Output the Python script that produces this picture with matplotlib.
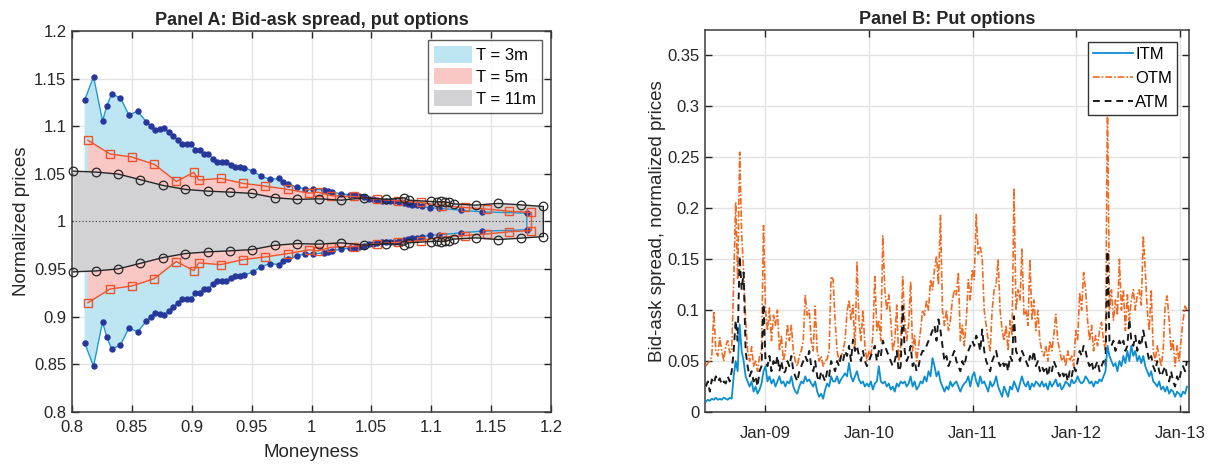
import matplotlib
matplotlib.use("Agg")
import matplotlib.pyplot as plt
import matplotlib.dates as mdates
from matplotlib.patches import Patch
from matplotlib.ticker import FuncFormatter, MultipleLocator
import numpy as np
import pandas as pd

plt.rcParams['font.family'] = ['Liberation Sans', 'DejaVu Sans']

# ---------------- Panel A data (moneyness, ask side normalized price) ----------------
m3 = [0.8105, 0.818, 0.8255, 0.829, 0.833, 0.8404, 0.8476, 0.8547, 0.8622, 0.8658,
      0.8697, 0.8733, 0.8771, 0.8808, 0.8846, 0.8882, 0.8918, 0.8957, 0.8993, 0.9028,
      0.9067, 0.9103, 0.9139, 0.9177, 0.9214, 0.925, 0.9289, 0.9324, 0.936, 0.9399,
      0.9435, 0.9509, 0.9581, 0.9656, 0.9731, 0.9766, 0.9805, 0.9877, 0.9946, 1.0012,
      1.0101, 1.0139, 1.0173, 1.025, 1.0322, 1.0361, 1.04, 1.0438, 1.0477, 1.051,
      1.0549, 1.0587, 1.0626, 1.0659, 1.0692, 1.0731, 1.077, 1.0808, 1.0842, 1.088,
      1.0919, 1.0991, 1.1063, 1.1245, 1.1422, 1.1798]
ask3 = [1.1274, 1.152, 1.1056, 1.121, 1.1337, 1.130, 1.1116, 1.116, 1.1045, 1.100,
        1.096, 1.097, 1.0979, 1.0937, 1.0898, 1.086, 1.0818, 1.0818, 1.0818, 1.075,
        1.075, 1.0713, 1.0713, 1.0656, 1.0624, 1.0624, 1.0624, 1.0593, 1.0572, 1.0572,
        1.0565, 1.053, 1.0474, 1.0442, 1.0453, 1.0418, 1.0397, 1.036, 1.0343, 1.0337,
        1.0333, 1.0319, 1.0308, 1.029, 1.028, 1.0277, 1.0266, 1.0253, 1.0238, 1.0231,
        1.0224, 1.0217, 1.0217, 1.021, 1.021, 1.0205, 1.019, 1.0182, 1.0175, 1.0168,
        1.0161, 1.0143, 1.014, 1.0119, 1.0101, 1.0087]

m5 = [0.8133, 0.8318, 0.85, 0.8688, 0.8871, 0.9017, 0.9059, 0.9241, 0.943, 0.9614,
      0.9803, 0.998, 1.0056, 1.0167, 1.0355, 1.0543, 1.0726, 1.0914, 1.109, 1.1279,
      1.1466, 1.1649, 1.1837]
ask5 = [1.0853, 1.0709, 1.0677, 1.060, 1.0421, 1.0516, 1.0435, 1.0453, 1.04, 1.0372,
        1.0337, 1.0298, 1.0308, 1.027, 1.0263, 1.0235, 1.0217, 1.02, 1.0164, 1.0147,
        1.013, 1.0108, 1.0095]

m11 = [0.8012, 0.82, 0.8385, 0.8572, 0.8758, 0.8945, 0.9133, 0.9322, 0.9504, 0.9692,
       0.988, 1.0062, 1.025, 1.0438, 1.0626, 1.0775, 1.0814, 1.1001, 1.1046, 1.1079,
       1.1113, 1.1146, 1.119, 1.1372, 1.156, 1.1748, 1.1936]
ask11 = [1.0529, 1.0519, 1.0498, 1.0439, 1.0379, 1.0337, 1.0319, 1.0308, 1.0295, 1.025,
         1.0232, 1.0238, 1.0224, 1.0249, 1.0232, 1.0249, 1.0224, 1.021, 1.0206, 1.021,
         1.0206, 1.02, 1.0185, 1.0172, 1.019, 1.0175, 1.0158]

# ---------------- Panel B data (weekly, from 2008-06-06) ----------------
start_date = "2008-06-06"
itm = [0.010, 0.012, 0.011, 0.013, 0.012, 0.014, 0.012, 0.013, 0.012, 0.014,
       0.013, 0.012, 0.014, 0.013, 0.035, 0.050, 0.040, 0.086, 0.060, 0.050,
       0.035, 0.030, 0.025, 0.030, 0.020, 0.025, 0.018, 0.022, 0.028, 0.040,
       0.045, 0.030, 0.035, 0.028, 0.032, 0.025, 0.030, 0.035, 0.028, 0.030,
       0.025, 0.030, 0.028, 0.035, 0.025, 0.020, 0.018, 0.025, 0.030, 0.028,
       0.035, 0.030, 0.032, 0.028, 0.025, 0.030, 0.020, 0.015, 0.018, 0.013,
       0.022, 0.028, 0.025, 0.035, 0.030, 0.030, 0.035, 0.028, 0.032, 0.035,
       0.038, 0.035, 0.048, 0.035, 0.030, 0.035, 0.040, 0.032, 0.028, 0.030,
       0.025, 0.028, 0.025, 0.030, 0.022, 0.028, 0.030, 0.045, 0.030, 0.028,
       0.030, 0.025, 0.028, 0.022, 0.025, 0.020, 0.028, 0.025, 0.030, 0.028,
       0.030, 0.025, 0.028, 0.035, 0.025, 0.030, 0.022, 0.025, 0.030, 0.028,
       0.035, 0.030, 0.040, 0.035, 0.053, 0.045, 0.035, 0.040, 0.030, 0.025,
       0.020, 0.025, 0.022, 0.030, 0.025, 0.028, 0.030, 0.025, 0.020, 0.025,
       0.028, 0.030, 0.035, 0.025, 0.035, 0.039, 0.030, 0.025, 0.035, 0.028,
       0.030, 0.025, 0.020, 0.030, 0.025, 0.028, 0.035, 0.025, 0.020, 0.015,
       0.025, 0.020, 0.015, 0.025, 0.022, 0.030, 0.025, 0.020, 0.028, 0.035,
       0.028, 0.025, 0.030, 0.022, 0.028, 0.025, 0.030, 0.028, 0.025, 0.030,
       0.025, 0.028, 0.022, 0.030, 0.025, 0.028, 0.032, 0.025, 0.028, 0.022,
       0.025, 0.030, 0.028, 0.025, 0.032, 0.028, 0.030, 0.035, 0.030, 0.028,
       0.030, 0.035, 0.032, 0.028, 0.030, 0.025, 0.030, 0.028, 0.032, 0.030,
       0.035, 0.040, 0.065, 0.055, 0.050, 0.045, 0.048, 0.040, 0.050, 0.045,
       0.055, 0.048, 0.060, 0.050, 0.065, 0.055, 0.060, 0.050, 0.055, 0.048,
       0.055, 0.045, 0.040, 0.035, 0.040, 0.030, 0.028, 0.025, 0.030, 0.022,
       0.025, 0.020, 0.025, 0.018, 0.022, 0.020, 0.015, 0.020, 0.018, 0.015,
       0.020, 0.018, 0.025]
otm = [0.045, 0.048, 0.050, 0.055, 0.099, 0.060, 0.055, 0.073, 0.060, 0.050,
       0.065, 0.070, 0.058, 0.060, 0.127, 0.206, 0.130, 0.255, 0.176, 0.138,
       0.090, 0.060, 0.050, 0.064, 0.045, 0.050, 0.040, 0.055, 0.060, 0.183,
       0.100, 0.080, 0.102, 0.070, 0.095, 0.085, 0.100, 0.060, 0.075, 0.050,
       0.060, 0.086, 0.070, 0.085, 0.060, 0.050, 0.045, 0.055, 0.060, 0.070,
       0.115, 0.095, 0.100, 0.070, 0.060, 0.104, 0.060, 0.050, 0.055, 0.045,
       0.050, 0.052, 0.060, 0.133, 0.130, 0.090, 0.060, 0.050, 0.055, 0.060,
       0.070, 0.098, 0.110, 0.090, 0.105, 0.060, 0.147, 0.090, 0.070, 0.100,
       0.065, 0.050, 0.060, 0.055, 0.075, 0.133, 0.080, 0.090, 0.070, 0.173,
       0.120, 0.100, 0.115, 0.090, 0.060, 0.070, 0.105, 0.050, 0.065, 0.133,
       0.090, 0.070, 0.085, 0.128, 0.060, 0.075, 0.050, 0.065, 0.080, 0.100,
       0.095, 0.110, 0.100, 0.130, 0.120, 0.140, 0.153, 0.125, 0.193, 0.100,
       0.085, 0.100, 0.080, 0.090, 0.110, 0.120, 0.115, 0.137, 0.070, 0.085,
       0.065, 0.090, 0.130, 0.110, 0.140, 0.130, 0.194, 0.155, 0.163, 0.150,
       0.100, 0.085, 0.070, 0.060, 0.100, 0.120, 0.125, 0.150, 0.100, 0.080,
       0.070, 0.085, 0.060, 0.090, 0.075, 0.220, 0.100, 0.120, 0.110, 0.160,
       0.095, 0.100, 0.085, 0.150, 0.090, 0.110, 0.080, 0.100, 0.070, 0.060,
       0.055, 0.065, 0.050, 0.070, 0.060, 0.075, 0.096, 0.070, 0.060, 0.050,
       0.055, 0.045, 0.060, 0.050, 0.055, 0.045, 0.080, 0.070, 0.117, 0.100,
       0.137, 0.120, 0.090, 0.070, 0.085, 0.060, 0.075, 0.065, 0.080, 0.088,
       0.070, 0.060, 0.310, 0.100, 0.120, 0.090, 0.110, 0.095, 0.150, 0.100,
       0.120, 0.080, 0.115, 0.090, 0.110, 0.120, 0.100, 0.115, 0.120, 0.105,
       0.173, 0.140, 0.100, 0.080, 0.120, 0.060, 0.050, 0.065, 0.055, 0.045,
       0.060, 0.104, 0.114, 0.090, 0.060, 0.070, 0.045, 0.065, 0.050, 0.070,
       0.090, 0.104, 0.100]
atm = [0.025, 0.030, 0.020, 0.032, 0.028, 0.035, 0.030, 0.033, 0.027, 0.030,
       0.028, 0.035, 0.030, 0.040, 0.060, 0.090, 0.070, 0.153, 0.120, 0.137,
       0.060, 0.045, 0.035, 0.040, 0.030, 0.035, 0.025, 0.040, 0.045, 0.106,
       0.050, 0.045, 0.055, 0.040, 0.050, 0.045, 0.055, 0.040, 0.050, 0.038,
       0.040, 0.050, 0.045, 0.055, 0.040, 0.035, 0.030, 0.040, 0.045, 0.050,
       0.055, 0.050, 0.060, 0.045, 0.040, 0.050, 0.035, 0.030, 0.040, 0.035,
       0.030, 0.040, 0.035, 0.050, 0.045, 0.040, 0.050, 0.045, 0.055, 0.050,
       0.060, 0.055, 0.065, 0.050, 0.071, 0.060, 0.065, 0.055, 0.050, 0.060,
       0.050, 0.045, 0.050, 0.055, 0.060, 0.065, 0.050, 0.060, 0.055, 0.070,
       0.065, 0.060, 0.055, 0.050, 0.045, 0.050, 0.060, 0.040, 0.045, 0.104,
       0.060, 0.050, 0.055, 0.065, 0.045, 0.050, 0.040, 0.045, 0.055, 0.060,
       0.060, 0.065, 0.070, 0.075, 0.080, 0.085, 0.070, 0.091, 0.080, 0.065,
       0.050, 0.055, 0.045, 0.050, 0.055, 0.060, 0.050, 0.045, 0.040, 0.050,
       0.045, 0.055, 0.060, 0.065, 0.070, 0.065, 0.075, 0.070, 0.060, 0.081,
       0.060, 0.050, 0.045, 0.040, 0.050, 0.055, 0.060, 0.050, 0.045, 0.050,
       0.045, 0.050, 0.040, 0.055, 0.050, 0.094, 0.060, 0.055, 0.050, 0.060,
       0.055, 0.050, 0.045, 0.055, 0.050, 0.060, 0.045, 0.050, 0.040, 0.045,
       0.040, 0.045, 0.035, 0.045, 0.040, 0.050, 0.045, 0.040, 0.035, 0.040,
       0.035, 0.040, 0.030, 0.040, 0.035, 0.045, 0.040, 0.050, 0.060, 0.055,
       0.065, 0.060, 0.050, 0.045, 0.050, 0.040, 0.045, 0.050, 0.040, 0.045,
       0.050, 0.045, 0.158, 0.070, 0.065, 0.070, 0.060, 0.065, 0.070, 0.065,
       0.070, 0.060, 0.065, 0.091, 0.070, 0.065, 0.075, 0.060, 0.070, 0.065,
       0.080, 0.070, 0.060, 0.050, 0.055, 0.045, 0.040, 0.050, 0.040, 0.035,
       0.040, 0.045, 0.035, 0.030, 0.040, 0.030, 0.025, 0.035, 0.030, 0.040,
       0.045, 0.040, 0.050]

# ---------------- styling ----------------
TXT = '#262626'
GRID = '#e3e3e3'
C_FILL3, C_FILL5, C_FILL11 = '#bee5f2', '#f9c8c5', '#d2d2d4'
C_LINE3, C_DOT3 = '#1e9ad6', '#27379b'
C_LINE5 = '#f0522b'
C_LINE11 = '#262626'
C_ITM, C_OTM, C_ATM = '#0b8fd0', '#f26a21', '#1a1a1a'

fig = plt.figure(figsize=(12.11, 4.65), dpi=100)
axA = fig.add_axes([72/1211, 1-412/465, (551-72)/1211, (412-31)/465])
axB = fig.add_axes([705/1211, 1-412/465, (1189-705)/1211, (412-30)/465])


def matlab_style(ax):
    ax.grid(True, color=GRID, linewidth=1.0, zorder=0)
    ax.set_axisbelow(True)
    ax.tick_params(direction='in', length=5, width=1.0, colors=TXT, labelsize=12,
                   top=True, right=True, pad=4)
    for s in ax.spines.values():
        s.set_color('#3a3a3a')
        s.set_linewidth(1.1)


gfmt = FuncFormatter(lambda v, p: ('%g' % round(v, 4)))

# ---------------- Panel A ----------------
def band(m, ask):
    m = np.asarray(m)
    up = np.asarray(ask)
    lo = 2.0 - up
    xs = np.concatenate([m, m[::-1]])
    ys = np.concatenate([up, lo[::-1]])
    return xs, ys

x3, y3 = band(m3, ask3)
x5, y5 = band(m5, ask5)
x11, y11 = band(m11, ask11)

axA.fill(x3, y3, color=C_FILL3, lw=0, zorder=1)
axA.fill(x5, y5, color=C_FILL5, lw=0, zorder=2)
axA.fill(x11, y11, color=C_FILL11, lw=0, zorder=3)
axA.plot([0.8, 1.194], [1, 1], color='#333333', lw=0.8, ls=(0, (1, 2)), zorder=4)

axA.plot(x3, y3, color=C_LINE3, lw=1.0, marker='o', ms=3.6, mfc=C_DOT3, mec=C_DOT3,
         zorder=5)
axA.plot(x5, y5, color=C_LINE5, lw=1.0, marker='s', ms=5.5, mfc='none', mec=C_LINE5,
         mew=1.0, zorder=6)
axA.plot(x11, y11, color=C_LINE11, lw=1.0, marker='o', ms=6.2, mfc='none', mec=C_LINE11,
         mew=0.9, zorder=7, clip_on=False)

axA.set_xlim(0.8, 1.2)
axA.set_ylim(0.8, 1.2)
axA.xaxis.set_major_locator(MultipleLocator(0.05))
axA.yaxis.set_major_locator(MultipleLocator(0.05))
axA.xaxis.set_major_formatter(gfmt)
axA.yaxis.set_major_formatter(gfmt)
matlab_style(axA)
axA.tick_params(axis='x', pad=6)
axA.set_xlabel('Moneyness', fontsize=13.5, color=TXT, labelpad=6)
axA.set_ylabel('Normalized prices', fontsize=13.5, color=TXT, labelpad=3)
axA.set_title('Panel A: Bid-ask spread, put options', fontsize=13, fontweight='bold',
              color=TXT, pad=4)
handles = [Patch(facecolor=C_FILL3, edgecolor='none', label='T = 3m'),
           Patch(facecolor=C_FILL5, edgecolor='none', label='T = 5m'),
           Patch(facecolor=C_FILL11, edgecolor='none', label='T = 11m')]
legA = axA.legend(handles=handles, loc='upper right', fontsize=12, frameon=True,
                  fancybox=False, edgecolor='#333333', handlelength=2.3,
                  handleheight=1.15, handletextpad=0.25, borderpad=0.35,
                  labelspacing=0.3, borderaxespad=0.55)
legA.get_frame().set_linewidth(1.0)
legA.set_zorder(10)

# ---------------- Panel B ----------------
d_itm = pd.date_range(start_date, periods=len(itm), freq='7D')
d_otm = pd.date_range(start_date, periods=len(otm), freq='7D')
d_atm = pd.date_range(start_date, periods=len(atm), freq='7D')

axB.plot(d_otm, otm, color=C_OTM, lw=1.2, ls=(0, (4, 1.2, 1, 1.2)), label='OTM', zorder=3)
axB.plot(d_atm, atm, color=C_ATM, lw=1.4, ls=(0, (3.5, 2.5)), label='ATM', zorder=4)
axB.plot(d_itm, itm, color=C_ITM, lw=1.3, ls='-', label='ITM', zorder=5)

axB.set_xlim(pd.Timestamp('2008-06-03'), pd.Timestamp('2013-02-01'))
axB.set_ylim(0, 0.375)
axB.yaxis.set_major_locator(MultipleLocator(0.05))
axB.yaxis.set_major_formatter(gfmt)
axB.xaxis.set_major_locator(mdates.YearLocator(month=1, day=1))
axB.xaxis.set_major_formatter(mdates.DateFormatter('%b-%y'))
matlab_style(axB)
axB.tick_params(axis='x', pad=10)
axB.set_ylabel('Bid-ask spread, normalized prices', fontsize=13.5, color=TXT, labelpad=1)
axB.set_title('Panel B: Put options', fontsize=13, fontweight='bold', color=TXT, pad=4)
h, l = axB.get_legend_handles_labels()
order = [l.index('ITM'), l.index('OTM'), l.index('ATM')]
legB = axB.legend([h[i] for i in order], [l[i] for i in order], loc='upper right',
                  fontsize=12, frameon=True, fancybox=False, edgecolor='#333333',
                  handlelength=2.4, handletextpad=0.15, borderpad=0.3,
                  labelspacing=0.55, borderaxespad=0.7)
legB.get_frame().set_linewidth(1.0)
legB.get_frame().set_alpha(1.0)
legB.set_zorder(10)

fig.savefig('out.png', dpi=100)
